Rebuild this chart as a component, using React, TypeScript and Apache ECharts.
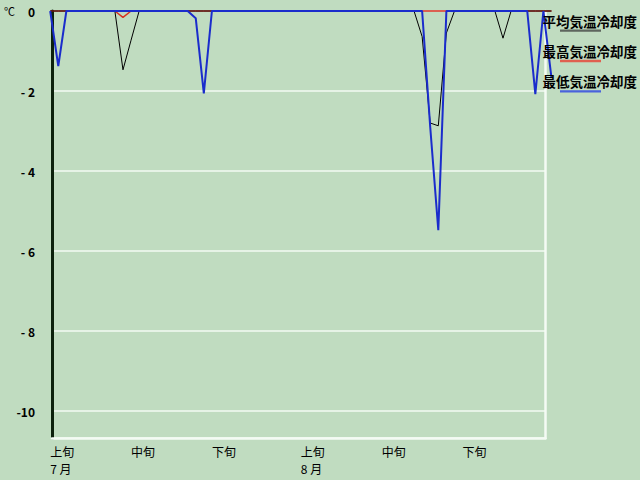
import React, { useEffect, useRef } from "react";
import * as echarts from "echarts";

const avgCooling = [
  0, 0, 0, 0, 0, 0, 0, 0, 0, -1.47,
  -0.73, 0, 0, 0, 0, 0, 0, 0, 0, 0,
  0, 0, 0, 0, 0, 0, 0, 0, 0, 0,
  0, 0, 0, 0, 0, 0, 0, 0, 0, 0,
  0, 0, 0, 0, 0, 0, -0.64, -2.8, -2.87, -0.55,
  0, 0, 0, 0, 0, 0, -0.68, 0, 0, 0,
  0, 0, 0,
];
const maxCooling = [
  0, 0, 0, 0, 0, 0, 0, 0, 0, -0.16,
  0, 0, 0, 0, 0, 0, 0, 0, 0, 0,
  0, 0, 0, 0, 0, 0, 0, 0, 0, 0,
  0, 0, 0, 0, 0, 0, 0, 0, 0, 0,
  0, 0, 0, 0, 0, 0, 0, 0, 0, 0,
  0, 0, 0, 0, 0, 0, 0, 0, 0, 0,
  0, 0, 0,
];
const minCooling = [
  0, -1.38, 0, 0, 0, 0, 0, 0, 0, 0,
  0, 0, 0, 0, 0, 0, 0, 0, -0.18, -2.06,
  0, 0, 0, 0, 0, 0, 0, 0, 0, 0,
  0, 0, 0, 0, 0, 0, 0, 0, 0, 0,
  0, 0, 0, 0, 0, 0, 0, -2.9, -5.48, 0,
  0, 0, 0, 0, 0, 0, 0, 0, 0, 0,
  -2.08, 0, -1.68,
];

const tickIndexes = [0, 10, 20, 31, 41, 51];
const tickLabels = ["上旬", "中旬", "下旬", "上旬", "中旬", "下旬"];
const monthLabels = ["7 月", "", "", "8 月", "", ""];
const seriesNames = ["平均気温冷却度", "最高気温冷却度", "最低気温冷却度"];
const seriesColors = ["#000000", "#d83020", "#1a2ccc"];
const legendLineColors = ["#5e665e", "#e06050", "#4a62dc"];
// drawing order: red first, then black, then blue on top
const drawOrder = [1, 0, 2];

const Y_MIN = -10.675;
const Y_MAX = 0;

export default function App() {
  const ref = useRef<HTMLDivElement>(null);
  useEffect(() => {
    if (!ref.current) return;
    const chart = echarts.init(ref.current, null, { renderer: "svg" });
    const categories = avgCooling.map((_, i) => String(i));
    const font = "'Noto Sans CJK JP', 'Noto Sans', sans-serif";
    const dataSets = [avgCooling, maxCooling, minCooling];
    const widths = [1, 1.4, 2];

    const legendGraphics: any[] = [];
    seriesNames.forEach((name, k) => {
      const cy = 20.5 + k * 30.3;
      legendGraphics.push({
        type: "text",
        x: 542.5,
        y: cy,
        z: 20,
        style: {
          text: name,
          fill: "#000",
          font: `bold 13.5px ${font}`,
          textVerticalAlign: "middle",
          textAlign: "left",
        },
      });
      legendGraphics.push({
        type: "line",
        z: 20,
        shape: { x1: 560, y1: cy + 10.2, x2: 601, y2: cy + 10.2 },
        style: { stroke: legendLineColors[k], lineWidth: 2.3 },
      });
    });

    chart.setOption({
      animation: false,
      backgroundColor: "#c0dcc0",
      textStyle: { fontFamily: font },
      grid: [
        { left: 50.2, right: 88.5, top: 11, height: 427 },
        { left: 52, right: 94.5, top: 11, height: 427 },
      ],
      xAxis: [
        {
          gridIndex: 0,
          type: "category",
          data: categories,
          boundaryGap: false,
          axisLine: { show: false },
          axisTick: { show: false },
          splitLine: { show: false },
          axisLabel: {
            interval: (index: number) => tickIndexes.includes(index),
            formatter: (_v: string, index: number) => {
              const k = tickIndexes.indexOf(index);
              if (k < 0) return "";
              return monthLabels[k] ? tickLabels[k] + "\n" + monthLabels[k] : tickLabels[k];
            },
            align: "left",
            verticalAlign: "top",
            margin: 5,
            fontSize: 12,
            lineHeight: 17,
            color: "#000",
            fontFamily: font,
          },
        },
        {
          gridIndex: 1,
          type: "value",
          min: 0,
          max: 1,
          axisLine: { show: true, onZero: false, lineStyle: { color: "#f4fbf4", width: 2.5 } },
          axisTick: { show: false },
          axisLabel: { show: false },
          splitLine: { show: false },
        },
      ],
      yAxis: [
        { gridIndex: 0, type: "value", min: Y_MIN, max: Y_MAX, show: false },
        {
          gridIndex: 1,
          type: "value",
          min: Y_MIN,
          max: Y_MAX,
          position: "left",
          splitNumber: 5,
          axisLine: { show: true, onZero: false, lineStyle: { color: "#0c220c", width: 3 } },
          axisTick: { show: false },
          splitLine: { show: true, lineStyle: { color: "#e6f3e6", width: 2 } },
          axisLabel: {
            showMinLabel: false,
            margin: 17,
            fontSize: 12,
            fontWeight: "bold",
            color: "#000",
            fontFamily: font,
            formatter: (v: number) => {
              if (Math.abs(v - Math.round(v)) > 1e-6) return "";
              if (v === 0) return "0";
              if (v > -10) return "- " + String(-v);
              return String(v);
            },
          },
        },
        {
          gridIndex: 1,
          type: "value",
          min: Y_MIN,
          max: Y_MAX,
          position: "right",
          axisLine: { show: true, onZero: false, lineStyle: { color: "#f4fbf4", width: 2.5 } },
          axisTick: { show: false },
          axisLabel: { show: false },
          splitLine: { show: false },
        },
      ],
      series: drawOrder.map((k) => ({
        name: seriesNames[k],
        type: "line",
        xAxisIndex: 0,
        yAxisIndex: 0,
        data: dataSets[k],
        showSymbol: false,
        symbol: "none",
        clip: false,
        lineStyle: { color: seriesColors[k], width: widths[k] },
      })),
      graphic: [
        {
          type: "text",
          x: 4,
          y: 11,
          z: 20,
          style: {
            text: "℃",
            fill: "#000",
            font: `11px ${font}`,
            textVerticalAlign: "middle",
          },
        },
        ...legendGraphics,
      ],
    });
    return () => chart.dispose();
  }, []);
  return (
    <div
      ref={ref}
      style={{ position: "fixed", left: 0, top: 0, width: 640, height: 480 }}
    />
  );
}
